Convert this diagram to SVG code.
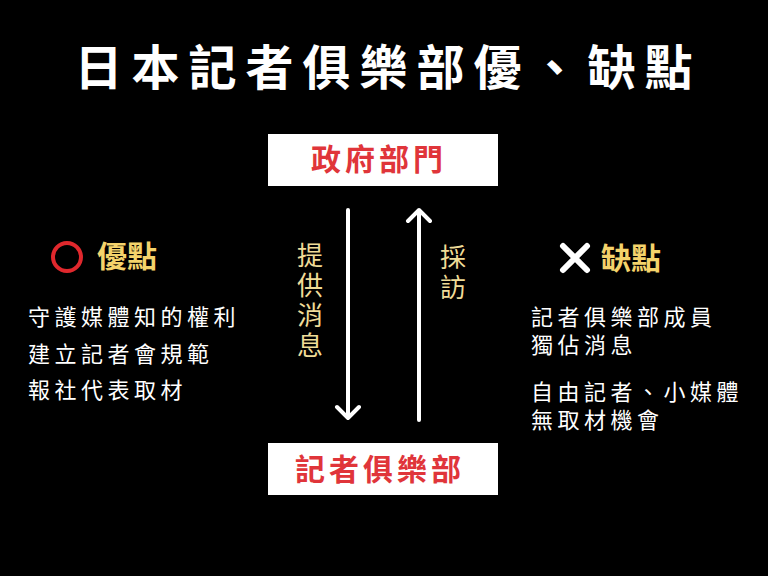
<svg xmlns="http://www.w3.org/2000/svg" width="768" height="576" viewBox="0 0 768 576">
<style>
text{font-family:"Noto Sans CJK TC","Noto Sans CJK SC",sans-serif;dominant-baseline:central}
.title{font-size:48px;font-weight:700;fill:#fff;letter-spacing:9px}
.box{fill:#fff}
.boxt{font-size:30px;font-weight:700;fill:#e0353a;letter-spacing:4px}
.head{font-size:30px;font-weight:700;fill:#f4d36b}
.item{font-size:22px;fill:#fff;letter-spacing:4.5px}
.lab{font-size:26px;fill:#f0dc98;writing-mode:vertical-rl;letter-spacing:4px}
.arr{stroke:#fff;stroke-width:4;fill:none;stroke-linecap:round;stroke-linejoin:round}
</style>
<rect width="768" height="576" fill="#000"/>
<text class="title" x="388" y="64" text-anchor="middle">日本記者俱樂部優、缺點</text>
<g id="gov">
<rect class="box" x="268" y="134" width="230" height="52"/>
<text class="boxt" x="379" y="157" text-anchor="middle">政府部門</text>
</g>
<g id="club">
<rect class="box" x="268" y="443" width="230" height="52"/>
<text class="boxt" x="380" y="467" text-anchor="middle">記者俱樂部</text>
</g>
<g id="connectors">
<path class="arr" d="M348 210V418M337 407L348 418L359 407"/>
<path class="arr" d="M419 420V210M408 221L419 210L430 221"/>
<text id="label-provide" class="lab" x="310" y="242">提供消息</text>
<text id="label-interview" class="lab" x="453" y="244">採訪</text>
</g>
<g id="pros">
<circle cx="67" cy="257" r="14" fill="none" stroke="#e0282d" stroke-width="4"/>
<text class="head" x="97" y="254">優點</text>
<text class="item" x="28" y="315">守護媒體知的權利</text>
<text class="item" x="28" y="352">建立記者會規範</text>
<text class="item" x="28" y="388">報社代表取材</text>
</g>
<g id="cons">
<path d="M563 246L587 270M587 246L563 270" stroke="#fff" stroke-width="6" stroke-linecap="round"/>
<text class="head" x="601" y="256">缺點</text>
<text class="item" x="531" y="315">記者俱樂部成員<tspan x="531" dy="28">獨佔消息</tspan></text>
<text class="item" x="531" y="390">自由記者、小媒體<tspan x="531" dy="28">無取材機會</tspan></text>
</g>
</svg>
